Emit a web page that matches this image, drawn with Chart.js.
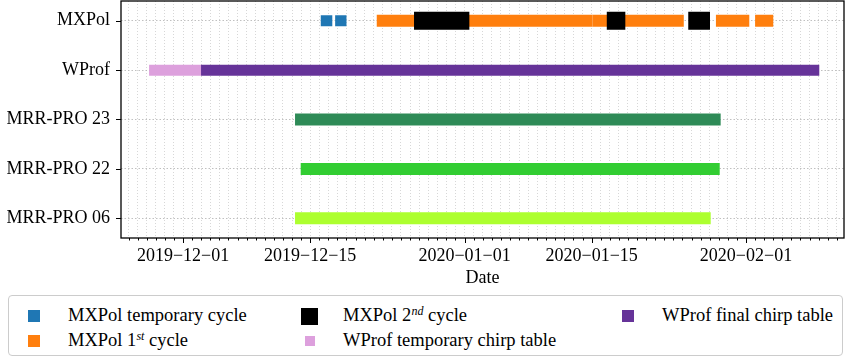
<!DOCTYPE html>
<html><head><meta charset="utf-8">
<script src="https://cdn.jsdelivr.net/npm/chart.js@4"></script>
<style>
html,body{margin:0;padding:0;background:#fff;}
#wrap{position:relative;width:850px;height:357px;font-family:"Liberation Serif","Times New Roman",Times,"DejaVu Serif",serif;}
#c{position:absolute;left:0;top:0;}
#legendBox{position:absolute;left:8px;top:295px;width:835px;height:61px;border:1px solid #cccccc;border-radius:4px;box-sizing:border-box;background:#fff;}
.item{position:absolute;font-size:18.5px;color:#000;white-space:nowrap;line-height:20px;}
.mk{position:absolute;}
sup{font-size:12px;line-height:0;vertical-align:0.5em;}
</style></head><body>
<div id="wrap"><canvas id="c" width="850" height="357"></canvas><div id="legendBox"></div></div>
<script>
// ---- data ----
const rows = ['MXPol', 'WProf', 'MRR-PRO 23', 'MRR-PRO 22', 'MRR-PRO 06'];
const xTickLabels = ['2019−12−01', '2019−12−15', '2020−01−01', '2020−01−15', '2020−02−01'];
const xTickDates = ['2019-12-01T00:00', '2019-12-15T00:00', '2020-01-01T00:00', '2020-01-15T00:00', '2020-02-01T00:00'];
const xRange = ['2019-11-24T04:00', '2020-02-11T19:00'];

const mxpolTemporary = [['2019-12-16T04:00', '2019-12-17T10:30'], ['2019-12-17T18:00', '2019-12-19T00:00']];
const mxpolFirst = [['2019-12-22T08:00', '2020-01-15T02:00'], ['2020-01-15T02:00', '2020-01-25T03:30'],
                    ['2020-01-28T16:30', '2020-02-01T08:40'], ['2020-02-02T00:00', '2020-02-04T00:00']];
const mxpolSecond = [['2019-12-26T10:30', '2020-01-01T12:45'], ['2020-01-16T16:00', '2020-01-18T17:00'],
                     ['2020-01-25T15:20', '2020-01-28T00:45']];
const wprofTemporary = [['2019-11-27T06:15', '2019-12-02T23:30']];
const wprofFinal = [['2019-12-02T23:30', '2020-02-09T01:40']];
const mrr23 = [['2019-12-13T08:00', '2020-01-29T05:00']];
const mrr22 = [['2019-12-13T23:00', '2020-01-29T02:30']];
const mrr06 = [['2019-12-13T08:00', '2020-01-28T02:40']];

const legendLabels = ['MXPol temporary cycle', 'MXPol 1st cycle', 'MXPol 2nd cycle',
                      'WProf temporary chirp table', 'WProf final chirp table'];

// ---- helpers ----
const day = s => Date.parse(s + ':00Z') / 864e5;
const majorDays = xTickDates.map(day);
const toBars = (spans, row) => spans.map(([s, e]) => ({x: [day(s), day(e)], y: row}));

const series = [
  {label: legendLabels[2], spans: mxpolSecond, row: 0, color: '#000000', thick: 18, order: 0, legend: {col: 1, r: 0, size: 17}},
  {label: legendLabels[0], spans: mxpolTemporary, row: 0, color: '#1f77b4', thick: 11, order: 1, legend: {col: 0, r: 0, size: 12}},
  {label: legendLabels[1], spans: mxpolFirst, row: 0, color: '#ff7f0e', thick: 12, order: 1, legend: {col: 0, r: 1, size: 12}},
  {label: legendLabels[3], spans: wprofTemporary, row: 1, color: '#dda0dd', thick: 11, order: 2, legend: {col: 1, r: 1, size: 10}},
  {label: legendLabels[4], spans: wprofFinal, row: 1, color: '#663399', thick: 11, order: 2, legend: {col: 2, r: 0, size: 12}},
  {label: 'MRR-PRO 23', spans: mrr23, row: 2, color: '#2e8b57', thick: 12, order: 2},
  {label: 'MRR-PRO 22', spans: mrr22, row: 3, color: '#32cd32', thick: 12, order: 2},
  {label: 'MRR-PRO 06', spans: mrr06, row: 4, color: '#adff2f', thick: 12, order: 2},
];

const xMin = day(xRange[0]), xMax = day(xRange[1]);

const framePlugin = {
  id: 'frame',
  afterDraw(chart) {
    const {ctx, chartArea: a, scales: {x, y}} = chart;
    ctx.save();
    ctx.strokeStyle = '#000';
    ctx.lineWidth = 1;
    ctx.beginPath();
    x.ticks.forEach(t => {
      const px = Math.round(x.getPixelForValue(t.value)) + 0.5;
      const len = majorDays.includes(t.value) ? 5 : 2.5;
      ctx.moveTo(px, a.bottom); ctx.lineTo(px, a.bottom + len);
    });
    y.ticks.forEach(t => {
      const py = Math.round(y.getPixelForValue(t.value)) + 0.5;
      ctx.moveTo(a.left - 5, py); ctx.lineTo(a.left, py);
    });
    ctx.stroke();
    ctx.lineWidth = 1.3;
    ctx.strokeRect(a.left, a.top, a.right - a.left, a.bottom - a.top);
    ctx.restore();
  }
};

const font = {family: '"Liberation Serif", "Times New Roman", Times, "DejaVu Serif", serif', size: 18};

new Chart(document.getElementById('c'), {
  type: 'bar',
  data: {
    datasets: series.map(s => ({
      label: s.label,
      data: toBars(s.spans, s.row),
      backgroundColor: s.color,
      borderWidth: 0,
      maxBarThickness: s.thick,
      grouped: false,
      order: s.order,
    }))
  },
  options: {
    indexAxis: 'y',
    responsive: false,
    animation: false,
    layout: {padding: {top: 1, right: 6, bottom: 67, left: 0}},
    plugins: {legend: {display: false}, tooltip: {enabled: false}},
    scales: {
      x: {
        type: 'linear', position: 'bottom', min: xMin, max: xMax, offset: false,
        afterBuildTicks: sc => {
          const t = [];
          for (let d = Math.ceil(xMin); d <= Math.floor(xMax); d++) t.push({value: d});
          sc.ticks = t;
        },
        afterFit: sc => { sc.height = 52; sc.paddingLeft = 0; sc.paddingRight = 0; },
        ticks: {
          autoSkip: false, maxRotation: 0, padding: 7, color: '#000', font,
          callback: v => { const i = majorDays.indexOf(v); return i >= 0 ? xTickLabels[i] : ''; }
        },
        grid: {color: '#cdcdcd', drawTicks: false, lineWidth: 0.8, offset: false},
        border: {display: false, dash: [1, 2]},
        title: {display: true, text: 'Date', color: '#000', font, padding: {top: 0, bottom: 1}},
      },
      y: {
        type: 'linear', min: -0.4, max: 4.4, reverse: true, offset: false,
        afterBuildTicks: sc => { sc.ticks = rows.map((_, i) => ({value: i})); },
        afterFit: sc => { sc.width = 121; sc.paddingTop = 0; sc.paddingBottom = 0; },
        ticks: {autoSkip: false, padding: 11, color: '#000', font, callback: v => rows[v]},
        grid: {color: '#b0b0b0', drawTicks: false, lineWidth: 0.8, offset: false},
        border: {display: false, dash: [1.5, 2]},
      }
    }
  },
  plugins: [framePlugin]
});

// ---- HTML legend (matplotlib-style 3 columns) ----
const colMarkX = [34, 309.5, 627.5], colTextX = [68, 343, 662], rowY = [316, 341];
const wrap = document.getElementById('wrap');
series.filter(s => s.legend).forEach(s => {
  const {col, r, size} = s.legend;
  const mk = document.createElement('div');
  mk.className = 'mk';
  Object.assign(mk.style, {left: (colMarkX[col] - size / 2) + 'px', top: (rowY[r] - size / 2) + 'px',
    width: size + 'px', height: size + 'px', background: s.color});
  wrap.appendChild(mk);
  const tx = document.createElement('div');
  tx.className = 'item';
  tx.style.left = colTextX[col] + 'px';
  tx.style.top = (rowY[r] - 11) + 'px';
  tx.innerHTML = s.label.replace(/(\d)(st|nd)\b/, '$1<sup><i>$2</i></sup>');
  wrap.appendChild(tx);
});
</script>
</body></html>
